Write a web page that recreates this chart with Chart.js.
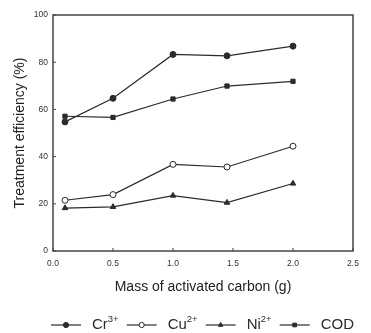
<!DOCTYPE html>
<html>
<head>
<meta charset="utf-8">
<script src="https://cdn.jsdelivr.net/npm/chart.js@4/dist/chart.umd.min.js"></script>
<style>
  html, body { margin: 0; padding: 0; background: #fff; }
  #wrap { width: 371px; height: 333px; }
</style>
</head>
<body>
<div id="wrap"><canvas id="chart"></canvas></div>
<script>
// data
const massG = [0.1, 0.5, 1.0, 1.45, 2.0];
const cr3 = [54.7, 64.7, 83.3, 82.7, 86.8];
const cu2 = [21.5, 23.9, 36.7, 35.6, 44.4];
const ni2 = [18.2, 18.7, 23.5, 20.5, 28.6];
const cod = [57.1, 56.6, 64.4, 69.9, 71.9];

const xTicks = [0, 0.5, 1.0, 1.5, 2.0, 2.5];
const yTicks = [0, 20, 40, 60, 80, 100];

const seriesNames = [["Cr", "3+"], ["Cu", "2+"], ["Ni", "2+"], ["COD", ""]];

const ink = "#2b2b2b";

function pts(ys) {
    return massG.map((x, i) => ({ x: x, y: ys[i] }));
}

function makeSet(label, ys, style, fill, radius) {
    return {
        label: label,
        data: pts(ys),
        showLine: true,
        borderColor: ink,
        borderWidth: 1.2,
        pointStyle: style,
        pointRadius: radius,
        pointBackgroundColor: fill,
        pointBorderColor: ink,
        pointBorderWidth: 1,
    };
}

// box round the plot, small ticks pointing inward
const frame = {
    id: "frame",
    afterDraw(chart) {
        const ctx = chart.ctx;
        const a = chart.chartArea;
        const xs = chart.scales.x, ys = chart.scales.y;
        ctx.save();
        ctx.strokeStyle = "#444";
        ctx.lineWidth = 1.5;
        ctx.strokeRect(a.left, a.top, a.right - a.left, a.bottom - a.top);
        ctx.lineWidth = 1;
        xTicks.forEach(v => {
            const px = xs.getPixelForValue(v);
            ctx.beginPath();
            ctx.moveTo(px, a.bottom);
            ctx.lineTo(px, a.bottom - 3);
            ctx.stroke();
        });
        yTicks.forEach(v => {
            const py = ys.getPixelForValue(v);
            ctx.beginPath();
            ctx.moveTo(a.left, py);
            ctx.lineTo(a.left + 3, py);
            ctx.stroke();
        });
        ctx.restore();
    }
};

// legend row under the axis title
const bottomLegend = {
    id: "bottomLegend",
    afterDraw(chart) {
        const ctx = chart.ctx;
        const y = 325;
        let x = 51;
        ctx.save();
        chart.data.datasets.forEach((ds, i) => {
            const lineLen = 30;
            ctx.strokeStyle = ink;
            ctx.lineWidth = 1.2;
            ctx.beginPath();
            ctx.moveTo(x, y);
            ctx.lineTo(x + lineLen, y);
            ctx.stroke();
            ctx.fillStyle = ds.pointBackgroundColor;
            ctx.strokeStyle = ink;
            ctx.lineWidth = 1;
            Chart.helpers.drawPoint(ctx, {
                pointStyle: ds.pointStyle,
                radius: 2.6,
                borderWidth: 1
            }, x + lineLen / 2, y);
            x += lineLen + 11;
            const [base, sup] = seriesNames[i];
            ctx.fillStyle = ink;
            ctx.textBaseline = "middle";
            ctx.font = "15px 'Liberation Sans', Arial, sans-serif";
            ctx.fillText(base, x, y);
            x += ctx.measureText(base).width;
            if (sup) {
                ctx.font = "9.5px 'Liberation Sans', Arial, sans-serif";
                ctx.fillText(sup, x, y - 6);
                x += ctx.measureText(sup).width;
            }
            x += 8;
        });
        ctx.restore();
    }
};

new Chart(document.getElementById("chart").getContext("2d"), {
    type: "scatter",
    data: {
        datasets: [
            makeSet("Cr3+", cr3, "circle", ink, 3),
            makeSet("Cu2+", cu2, "circle", "#fff", 3),
            makeSet("Ni2+", ni2, "triangle", ink, 3.2),
            makeSet("COD", cod, "rect", ink, 3),
        ]
    },
    options: {
        responsive: true,
        maintainAspectRatio: false,
        animation: false,
        layout: { padding: { left: 0, right: 18, top: 15, bottom: 30 } },
        plugins: {
            legend: { display: false },
            tooltip: { enabled: false },
        },
        scales: {
            x: {
                type: "linear",
                min: 0,
                max: 2.5,
                afterFit(scale) { scale.height = 52; },
                afterBuildTicks(scale) { scale.ticks = xTicks.map(v => ({ value: v })); },
                border: { display: false },
                grid: { display: false, drawTicks: false },
                ticks: {
                    padding: 8,
                    color: "#333",
                    font: { family: "'Liberation Sans', Arial", size: 8.5 },
                    callback: v => v.toFixed(1),
                },
                title: {
                    display: true,
                    text: "Mass of activated carbon (g)",
                    color: "#222",
                    font: { family: "'Liberation Sans', Arial", size: 14 },
                    padding: { top: 0, bottom: 7 },
                },
            },
            y: {
                min: 0,
                max: 100,
                afterFit(scale) { scale.width = 53; },
                afterBuildTicks(scale) { scale.ticks = yTicks.map(v => ({ value: v })); },
                border: { display: false },
                grid: { display: false, drawTicks: false },
                ticks: {
                    padding: 5,
                    color: "#333",
                    font: { family: "'Liberation Sans', Arial", size: 8.5 },
                },
                title: {
                    display: true,
                    text: "Treatment efficiency (%)",
                    color: "#222",
                    font: { family: "'Liberation Sans', Arial", size: 14 },
                    padding: { top: 12, bottom: 0 },
                },
            },
        },
    },
    plugins: [frame, bottomLegend],
});
</script>
</body>
</html>
